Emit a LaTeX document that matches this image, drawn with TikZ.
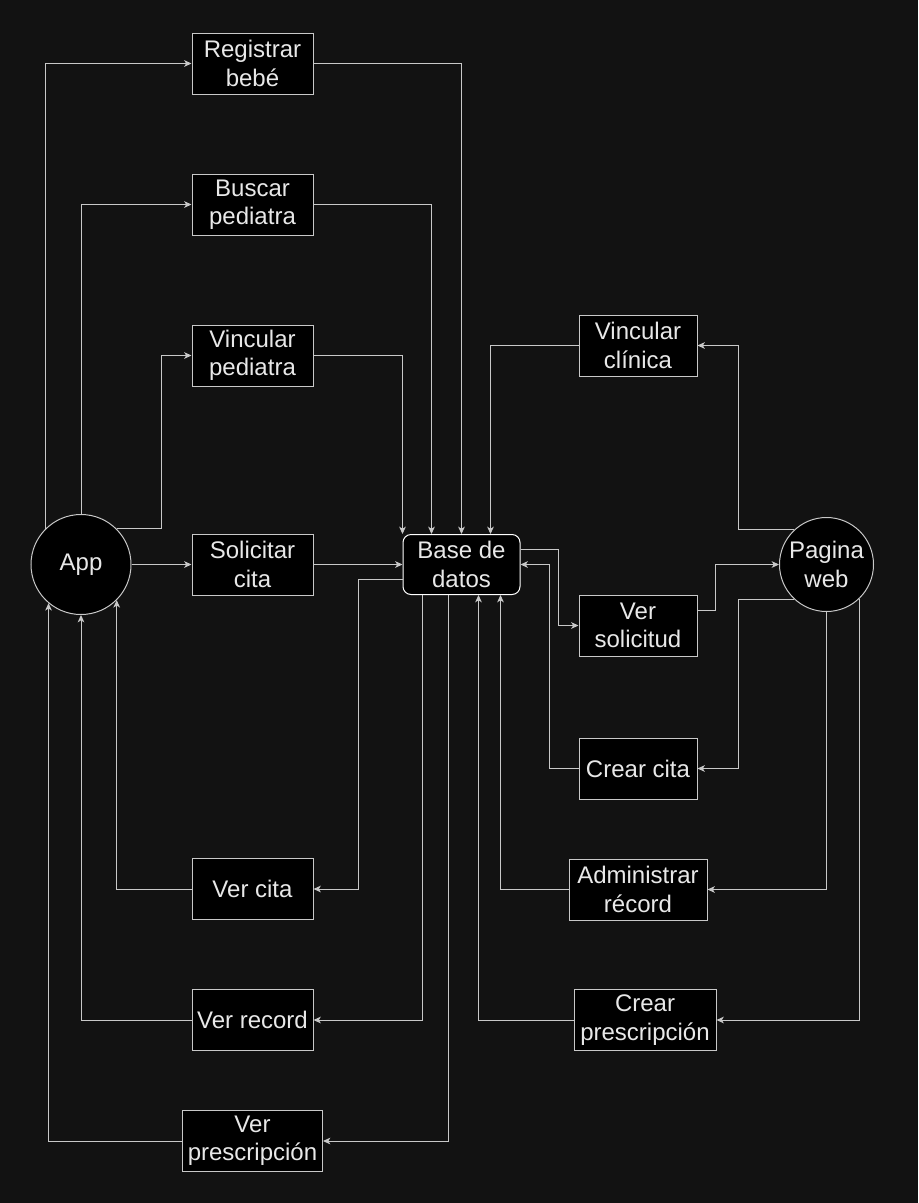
\documentclass[tikz,border=0pt]{standalone}
\usepackage{fontspec}
\setmainfont{Liberation Sans}
\usetikzlibrary{positioning,shapes,calc,arrows.meta}
\definecolor{bgcol}{HTML}{121212}
\definecolor{edgecol}{HTML}{C8C8C8}
\definecolor{txtcol}{HTML}{E8E8E8}
\tikzset{
  proc/.style={draw=edgecol,fill=black,text=txtcol,line width=0.75pt,align=center,
    minimum width=90.75pt,minimum height=45.75pt,inner sep=1pt,
    font=\fontsize{18}{21.25}\selectfont},
  actor/.style={circle,draw=edgecol,fill=black,text=txtcol,line width=0.75pt,align=center,
    inner sep=0pt,font=\fontsize{18}{21.25}\selectfont},
  store/.style={proc,rounded corners=6pt,draw=white},
  flow/.style={draw=edgecol,line width=0.75pt,-{Stealth[length=5.5pt,width=5pt,inset=1.5pt]}},
}
\begin{document}
\begin{tikzpicture}[x=0.75pt,y=-0.75pt]
\fill[bgcol] (0,0) rectangle (918,1203);
\useasboundingbox (0,0) rectangle (918,1203);

\node[actor,minimum size=75pt] (app) at (81,564.5) {App};
\node[actor,minimum size=70.5pt] (web) at (826.5,564.5) {Pagina\\web};
\node[store,minimum width=87.75pt,minimum height=45pt] (db) at (461.5,564.5) {Base de\\datos};

\node[proc] (reg) at (252.5,63.5) {Registrar\\bebé};
\node[proc] (busc) at (252.5,204.5) {Buscar\\pediatra};
\node[proc] (vinp) at (252.5,355.5) {Vincular\\pediatra};
\node[proc] (sol) at (252.5,564.5) {Solicitar\\cita};
\node[proc] (vcita) at (252.5,889) {Ver cita};
\node[proc] (vrec) at (252.5,1020) {Ver record};
\node[proc,minimum width=105pt] (vpre) at (252.5,1141) {Ver\\prescripción};

\node[proc,minimum width=88.5pt] (vinc) at (638,345.5) {Vincular\\clínica};
\node[proc,minimum width=88.5pt] (versol) at (638,625.5) {Ver\\solicitud};
\node[proc,minimum width=88.5pt] (crc) at (638,768.5) {Crear cita};
\node[proc,minimum width=103.5pt] (adm) at (638,889.5) {Administrar\\récord};
\node[proc,minimum width=106.5pt] (crp) at (645,1020) {Crear\\prescripción};

\draw[flow] (app.135) |- (reg.west);
\draw[flow] (app.north) |- (busc.west);
\draw[flow] (app.45) -| ($(vinp.west)+(-30,0)$) -- (vinp.west);
\draw[flow] (app.east) -- (sol.west);
\draw[flow] (sol.east) -- (db.west);
\draw[flow] (reg.east) -| (db.north);
\draw[flow] (busc.east) -| ($(db.north)+(-30,0)$);
\draw[flow] (vinp.east) -| ($(db.north)+(-59,0)$);
\draw[flow] (vinc.west) -| ($(db.north)+(29,0)$);
\draw[flow] (web.133) -| ($(vinc.east)+(41,0)$) -- (vinc.east);
\draw[flow] ($(db.east)+(0,-15)$) -| ($(versol.west)+(-20,0)$) -- (versol.west);
\draw[flow] ($(versol.east)+(0,-15)$) -| ($(web.west)+(-64,0)$) -- (web.west);
\draw[flow] (web.-133) -| ($(crc.east)+(41,0)$) -- (crc.east);
\draw[flow] (crc.west) -| ($(db.east)+(29,0)$) -- (db.east);
\draw[flow] (web.south) |- (adm.east);
\draw[flow] (adm.west) -| ($(db.south)+(39,0)$);
\draw[flow] (web.-46) |- (crp.east);
\draw[flow] (crp.west) -| ($(db.south)+(17,0)$);
\draw[flow] ($(db.west)+(0,15)$) -| ($(vcita.east)+(45,0)$) -- (vcita.east);
\draw[flow] (vcita.west) -| (app.-45);
\draw[flow] ($(db.south)+(-39,0)$) |- (vrec.east);
\draw[flow] (vrec.west) -| (app.south);
\draw[flow] ($(db.south)+(-13,0)$) |- (vpre.east);
\draw[flow] (vpre.west) -| (app.-130);
\end{tikzpicture}
\end{document}
